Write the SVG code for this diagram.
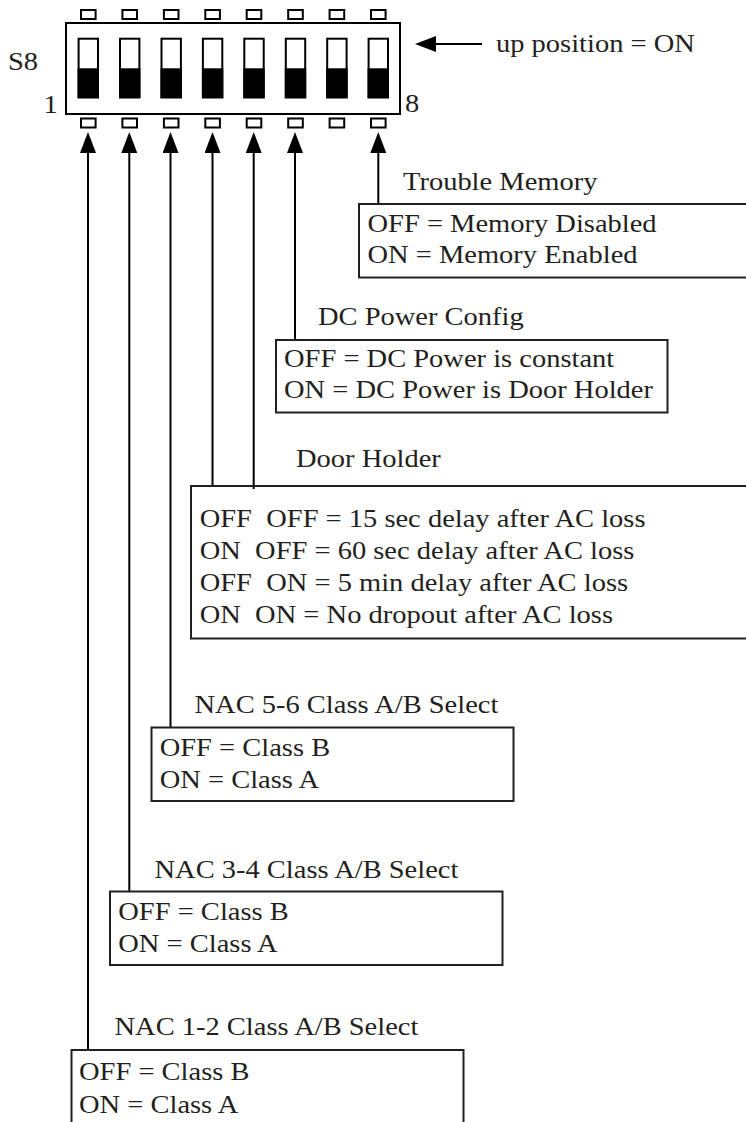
<svg xmlns="http://www.w3.org/2000/svg" width="746" height="1122" viewBox="0 0 746 1122">
<style>
.t{font-family:"Liberation Serif","Times New Roman",serif;font-size:25px;fill:#231f20;white-space:pre}
.box{fill:none;stroke:#231f20;stroke-width:2}
.ln{fill:none;stroke:#000;stroke-width:2}
.pad{fill:#fff;stroke:#000;stroke-width:2}
.sw{fill:#fff;stroke:#000;stroke-width:2}
.blk{fill:#000}
</style>
<defs>
<marker id="ah" viewBox="0 0 21 16" refX="11" refY="8" markerWidth="21" markerHeight="16" markerUnits="userSpaceOnUse" orient="auto">
<path d="M0,0 L21,8 L0,16 z" fill="#000"/>
</marker>
<g id="swunit">
<rect class="pad" x="-7.3" y="10" width="14.6" height="9"/>
<rect class="pad" x="-7.3" y="118.5" width="14.6" height="9"/>
<rect class="sw" x="-9.7" y="38.7" width="19.4" height="58.6"/>
<rect class="blk" x="-10.7" y="68.3" width="21.4" height="30"/>
</g>
</defs>

<g id="switch-s8">
<rect class="ln" x="66" y="23" width="334" height="91"/>
<use href="#swunit" x="88.3"/>
<use href="#swunit" x="129.7"/>
<use href="#swunit" x="171.2"/>
<use href="#swunit" x="212.6"/>
<use href="#swunit" x="254"/>
<use href="#swunit" x="295.5"/>
<use href="#swunit" x="336.9"/>
<use href="#swunit" x="378.3"/>
<text class="t" transform="translate(8,70) scale(1.14,1)">S8</text>
<text class="t" transform="translate(43.5,113) scale(1.14,1)">1</text>
<text class="t" transform="translate(405,112) scale(1.14,1)">8</text>
</g>

<g id="up-label">
<text class="t" transform="translate(496,51.7) scale(1.14,1)">up position = ON</text>
</g>

<g id="connectors">
<line class="ln" x1="482" y1="44" x2="425" y2="44" marker-end="url(#ah)"/>
<line class="ln" x1="88" y1="1050" x2="88" y2="142" marker-end="url(#ah)"/>
<line class="ln" x1="129.3" y1="891.5" x2="129.3" y2="142" marker-end="url(#ah)"/>
<line class="ln" x1="170.5" y1="727.5" x2="170.5" y2="142" marker-end="url(#ah)"/>
<line class="ln" x1="212.5" y1="486" x2="212.5" y2="142" marker-end="url(#ah)"/>
<line class="ln" x1="253.7" y1="489" x2="253.7" y2="142" marker-end="url(#ah)"/>
<line class="ln" x1="295" y1="340" x2="295" y2="142" marker-end="url(#ah)"/>
<line class="ln" x1="378.3" y1="204" x2="378.3" y2="142" marker-end="url(#ah)"/>
</g>

<g id="trouble-memory">
<text class="t" transform="translate(403,190) scale(1.14,1)">Trouble Memory</text>
<rect class="box" x="359" y="204" width="420" height="73.5"/>
<text class="t" transform="translate(367.5,231.7) scale(1.14,1)">OFF = Memory Disabled</text>
<text class="t" transform="translate(367.5,263.3) scale(1.14,1)">ON = Memory Enabled</text>
</g>

<g id="dc-power-config">
<text class="t" transform="translate(318,324.5) scale(1.14,1)">DC Power Config</text>
<rect class="box" x="276" y="340" width="391.5" height="72.5"/>
<text class="t" transform="translate(284,367) scale(1.14,1)">OFF = DC Power is constant</text>
<text class="t" transform="translate(284,398.3) scale(1.14,1)">ON = DC Power is Door Holder</text>
</g>

<g id="door-holder">
<text class="t" transform="translate(296,466.7) scale(1.14,1)">Door Holder</text>
<rect class="box" x="191" y="486" width="600" height="152.5"/>
<text class="t" xml:space="preserve" transform="translate(199.7,526.7) scale(1.14,1)">OFF  OFF = 15 sec delay after AC loss</text>
<text class="t" xml:space="preserve" transform="translate(199.7,559) scale(1.14,1)">ON  OFF = 60 sec delay after AC loss</text>
<text class="t" xml:space="preserve" transform="translate(199.7,591) scale(1.14,1)">OFF  ON = 5 min delay after AC loss</text>
<text class="t" xml:space="preserve" transform="translate(199.7,623.3) scale(1.14,1)">ON  ON = No dropout after AC loss</text>
</g>

<g id="nac-5-6">
<text class="t" transform="translate(194.5,712.7) scale(1.14,1)">NAC 5-6 Class A/B Select</text>
<rect class="box" x="151.5" y="727.5" width="362" height="73.5"/>
<text class="t" transform="translate(159.7,755.7) scale(1.14,1)">OFF = Class B</text>
<text class="t" transform="translate(159.7,788.3) scale(1.14,1)">ON = Class A</text>
</g>

<g id="nac-3-4">
<text class="t" transform="translate(154.5,878.3) scale(1.14,1)">NAC 3-4 Class A/B Select</text>
<rect class="box" x="110" y="891.5" width="392.5" height="73.5"/>
<text class="t" transform="translate(118.3,920) scale(1.14,1)">OFF = Class B</text>
<text class="t" transform="translate(118.3,951.7) scale(1.14,1)">ON = Class A</text>
</g>

<g id="nac-1-2">
<text class="t" transform="translate(114.5,1035) scale(1.14,1)">NAC 1-2 Class A/B Select</text>
<rect class="box" x="71.5" y="1050" width="392" height="100"/>
<text class="t" transform="translate(79,1080) scale(1.14,1)">OFF = Class B</text>
<text class="t" transform="translate(79,1113.3) scale(1.14,1)">ON = Class A</text>
</g>
</svg>
